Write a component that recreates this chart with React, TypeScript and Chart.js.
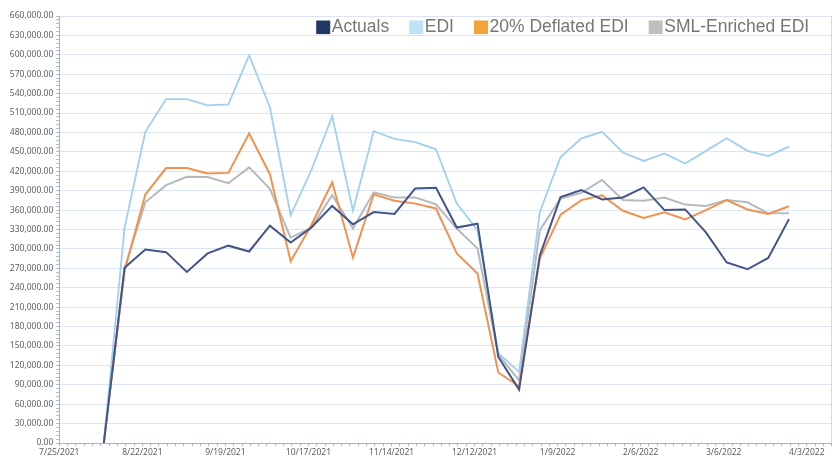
import React, { useEffect, useRef } from 'react';
import { Chart, registerables } from 'chart.js';

Chart.register(...registerables);

// ---- data ----
const weeks = [
  '2021-08-09', '2021-08-16', '2021-08-23', '2021-08-30', '2021-09-06', '2021-09-13',
  '2021-09-20', '2021-09-27', '2021-10-04', '2021-10-11', '2021-10-18', '2021-10-25',
  '2021-11-01', '2021-11-08', '2021-11-15', '2021-11-22', '2021-11-29', '2021-12-06',
  '2021-12-13', '2021-12-20', '2021-12-27', '2022-01-03', '2022-01-10', '2022-01-17',
  '2022-01-24', '2022-01-31', '2022-02-07', '2022-02-14', '2022-02-21', '2022-02-28',
  '2022-03-07', '2022-03-14', '2022-03-21', '2022-03-28',
];

const actuals = [
  0, 271000, 299000, 295000, 264500, 293000, 305000, 296000, 336000, 310000, 333000, 366500,
  338000, 357000, 354000, 393500, 394500, 333000, 339000, 133000, 82500, 290000, 380000, 391000,
  376500, 379500, 395000, 360000, 361000, 325500, 279000, 268500, 286000, 346000,
];

const edi = [
  0, 333000, 481000, 531500, 531500, 522000, 523500, 599000, 519000, 352000, 422000, 505000,
  359000, 482000, 470000, 465000, 454000, 370000, 329000, 139000, 110000, 357000, 442000, 471000,
  481000, 449000, 436000, 447500, 432000, 451500, 471000, 451500, 443500, 458000,
];

const deflatedEdi = [
  0, 266000, 384000, 425000, 425000, 416500, 417500, 478500, 415500, 281000, 337000, 403000,
  286500, 384500, 374500, 370000, 362500, 293000, 262000, 109000, 87500, 285500, 353000, 375500,
  383000, 359000, 348000, 356500, 345500, 360000, 375500, 361000, 354000, 366000,
];

const smlEnrichedEdi = [
  0, 270000, 372000, 398500, 411500, 411000, 401500, 426000, 393000, 317500, 333000, 383000,
  331500, 387500, 379500, 379500, 369000, 331500, 300500, 136500, 97000, 329000, 378000, 386500,
  406500, 375500, 374500, 379500, 368500, 366500, 375500, 372000, 355000, 355000,
];

const seriesNames = ['Actuals', 'EDI', '20% Deflated EDI', 'SML-Enriched EDI'];
const seriesValues = [actuals, edi, deflatedEdi, smlEnrichedEdi];
const lineColors = ['#435488', '#9fd0f0', '#f09250', '#b7babd'];
const legendColors = ['#1f3864', '#bde3f5', '#f2a43a', '#bfbfbf'];

const axisStartDate = '2021-07-25';
const axisEndDays = 260.4;
const xMinorStepDays = 2.8;
const xLabelStepDays = 28;
const xLastLabelDays = 252;
const yMax = 660000;
const yMajorStep = 30000;
const yMinorStep = 6000;

// ---- helpers ----
const DAY = 86400000;
const baseMs = Date.parse(axisStartDate + 'T00:00:00Z');
const toDays = (s: string) => (Date.parse(s + 'T00:00:00Z') - baseMs) / DAY;
const fmtDate = (days: number) => {
  const d = new Date(baseMs + Math.round(days) * DAY);
  return `${d.getUTCMonth() + 1}/${d.getUTCDate()}/${d.getUTCFullYear()}`;
};
const fmtNum = (v: number) =>
  v.toLocaleString('en-US', { minimumFractionDigits: 2, maximumFractionDigits: 2 });
const isMultiple = (v: number, step: number) => Math.abs(v / step - Math.round(v / step)) < 1e-6;

const gridColor = '#dbe4f4';
const axisColor = '#9fb4df';
const labelColor = '#5f5f5f';
const tickFont = { family: '"Noto Sans", "Open Sans", sans-serif', size: 8.5 };

const legendPlugin = {
  id: 'innerLegend',
  afterDraw(chart: any) {
    const ctx = chart.ctx;
    const area = chart.chartArea;
    ctx.save();
    ctx.font = '17.5px "Liberation Sans", Arial, sans-serif';
    ctx.textBaseline = 'middle';
    ctx.textAlign = 'left';
    const box = 14;
    const gap = 1.6;
    const itemGap = 20;
    const widths = seriesNames.map((n) => ctx.measureText(n).width);
    const total = widths.reduce((a, w) => a + box + gap + w, 0) + itemGap * (seriesNames.length - 1);
    let x = area.right - 22.5 - total;
    const y = 27.3;
    seriesNames.forEach((name, i) => {
      ctx.fillStyle = legendColors[i];
      ctx.fillRect(x, y - 6.8, box, 13.6);
      ctx.fillStyle = '#767676';
      ctx.fillText(name, x + box + gap, y);
      x += box + gap + widths[i] + itemGap;
    });
    ctx.restore();
  },
};

const borderPlugin = {
  id: 'rightBorder',
  beforeDatasetsDraw(chart: any) {
    const ctx = chart.ctx;
    const a = chart.chartArea;
    ctx.save();
    ctx.strokeStyle = '#cfdaf0';
    ctx.lineWidth = 1;
    ctx.beginPath();
    ctx.moveTo(Math.round(a.right) - 0.5, a.top);
    ctx.lineTo(Math.round(a.right) - 0.5, a.bottom);
    ctx.stroke();
    ctx.restore();
  },
};

export default function App() {
  const canvasRef = useRef<HTMLCanvasElement | null>(null);

  useEffect(() => {
    const canvas = canvasRef.current;
    if (!canvas) return;
    const xs = weeks.map(toDays);
    const chart = new Chart(canvas, {
      type: 'line',
      data: {
        datasets: seriesNames.map((name, i) => ({
          label: name,
          data: seriesValues[i].map((v, j) => ({ x: xs[j], y: v })),
          borderColor: lineColors[i],
          backgroundColor: lineColors[i],
          borderWidth: i === 1 ? 1.8 : 2,
          pointRadius: 0,
          tension: 0,
          fill: false,
        })),
      },
      options: {
        responsive: false,
        animation: false,
        devicePixelRatio: 1,
        layout: { padding: { top: 16, right: 2.3, left: 0, bottom: 0 } },
        plugins: {
          legend: { display: false },
          tooltip: { enabled: false },
        },
        scales: {
          x: {
            type: 'linear',
            min: 0,
            max: axisEndDays,
            afterFit: (s: any) => {
              s.height = 14;
            },
            ticks: {
              stepSize: xMinorStepDays,
              autoSkip: false,
              maxRotation: 0,
              minRotation: 0,
              padding: 1,
              color: labelColor,
              font: tickFont,
              callback: (v: any) => {
                const n = Number(v);
                return isMultiple(n, xLabelStepDays) && n <= xLastLabelDays ? fmtDate(n) : '';
              },
            },
            grid: {
              drawOnChartArea: false,
              drawTicks: true,
              tickLength: 3,
              tickColor: axisColor,
              color: axisColor,
            },
            border: { display: true, color: axisColor, width: 1 },
          },
          y: {
            type: 'linear',
            min: 0,
            max: yMax,
            afterFit: (s: any) => {
              s.width = 59.3;
            },
            ticks: {
              stepSize: yMinorStep,
              autoSkip: false,
              padding: 3,
              color: labelColor,
              font: tickFont,
              callback: (v: any) => (isMultiple(Number(v), yMajorStep) ? fmtNum(Number(v)) : ''),
            },
            grid: {
              drawOnChartArea: true,
              drawTicks: true,
              tickLength: 3,
              tickColor: axisColor,
              color: (ctx: any) =>
                ctx.tick && isMultiple(ctx.tick.value, yMajorStep) ? gridColor : 'rgba(0,0,0,0)',
            },
            border: { display: true, color: axisColor, width: 1 },
          },
        },
      },
      plugins: [borderPlugin, legendPlugin],
    } as any);
    return () => chart.destroy();
  }, []);

  return (
    <div style={{ position: 'absolute', left: 0, top: 0, width: 834, height: 457, background: '#fff' }}>
      <canvas ref={canvasRef} width={834} height={457} style={{ display: 'block' }} />
    </div>
  );
}
